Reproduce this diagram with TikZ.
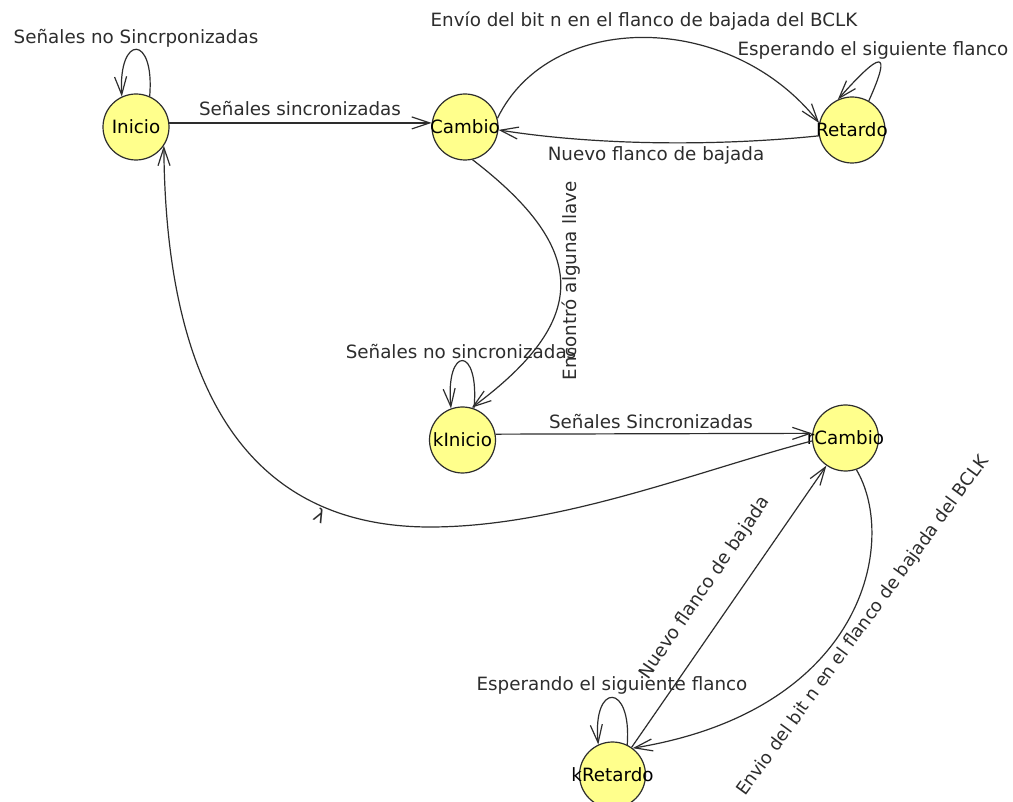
\documentclass[tikz,border=0pt]{standalone}
\usepackage{fontspec}
\setmainfont{DejaVu Sans}
\usetikzlibrary{arrows.meta}
\definecolor{stateyellow}{RGB}{255,255,140}
\definecolor{inkgray}{RGB}{45,45,45}
\begin{document}
\begin{tikzpicture}[x=1pt,y=-1pt,
  state/.style={circle,draw=inkgray,line width=1.2pt,fill=stateyellow,
    minimum size=66pt,inner sep=0pt,text=black,font=\fontsize{18.3}{22}\selectfont},
  trans/.style={draw=inkgray,line width=1.2pt,
    -{Straight Barb[length=18pt,width=12pt,line width=1.2pt]}},
  lbl/.style={inner sep=0pt,text=inkgray,font=\fontsize{18.3}{22}\selectfont}
]
\fill[white] (0,0) rectangle (1013,802);
\useasboundingbox (0,0) rectangle (1013,802);

% states
\node[state] (Inicio)   at (136,127)   {\makebox[0pt]{Inicio}};
\node[state] (Cambio)   at (465,127)   {\makebox[0pt]{Cambio}};
\node[state] (Retardo)  at (852,130)   {\makebox[0pt]{Retardo}};
\node[state] (kInicio)  at (462.5,440) {\makebox[0pt]{kInicio}};
\node[state] (rCambio)  at (845.5,438) {\makebox[0pt]{rCambio}};
\node[state] (kRetardo) at (612.5,775) {\makebox[0pt]{kRetardo}};
\coordinate (lowbend) at (430,527);

% transitions
\draw[trans] (Inicio.66) .. controls (155,34) and (118,34) .. (Inicio.115);
\draw[trans] (Inicio.7) -- (Cambio.173);
\draw[trans] (Cambio.15) .. controls (550,10) and (730,10) .. (Retardo.168);
\draw[trans] (Retardo.60) .. controls (893,47) and (880,52) .. (Retardo.115);
\draw[trans] (Retardo.190) .. controls (720,146) and (600,146) .. (Cambio.-5);
\draw[trans] (Cambio.-77) .. controls (590,250) and (590,320) .. (kInicio.74);
\draw[trans] (kInicio.70) .. controls (480,345) and (445,345) .. (kInicio.110);
\draw[trans] (kInicio.10) -- (rCambio.172);
\draw[trans] (rCambio.185) .. controls (700,470) and (560,527) .. (lowbend)
  .. controls (270,527) and (166,420) .. (Inicio.-34);
\draw[trans] (rCambio.-71) .. controls (898,540) and (866,710) .. (kRetardo.53);
\draw[trans] (kRetardo) -- (rCambio);
\draw[trans] (kRetardo.64) .. controls (632,682) and (592,682) .. (kRetardo.115);

% transition labels
\node[lbl] (l1)  at (136,38)  {Señales no Sincrponizadas};
\node[lbl] (l2)  at (300,109) {Señales sincronizadas};
\node[lbl] (l3)  at (644,21)  {Envío del bit n en el flanco de bajada del BCLK};
\node[lbl] (l4)  at (873,50)  {Esperando el siguiente flanco};
\node[lbl] (l5)  at (656,155) {Nuevo flanco de bajada};
\node[lbl,rotate=90] (l6) at (571,281) {Encontró alguna llave};
\node[lbl] (l7)  at (461,352) {Señales no sincronizadas};
\node[lbl] (l8)  at (651,422) {Señales Sincronizadas};
\node[lbl,rotate=-26] (l9) at (320,516) {λ};
\node[lbl,rotate=55.6] (l10) at (705,588) {Nuevo flanco de bajada};
\node[lbl,rotate=54,font=\fontsize{17.8}{21}\selectfont] (l11) at (863,626)
  {Envio del bit n en el flanco de bajada del BCLK};
\node[lbl] (l12) at (612,685) {Esperando el siguiente flanco};
\end{tikzpicture}
\end{document}
